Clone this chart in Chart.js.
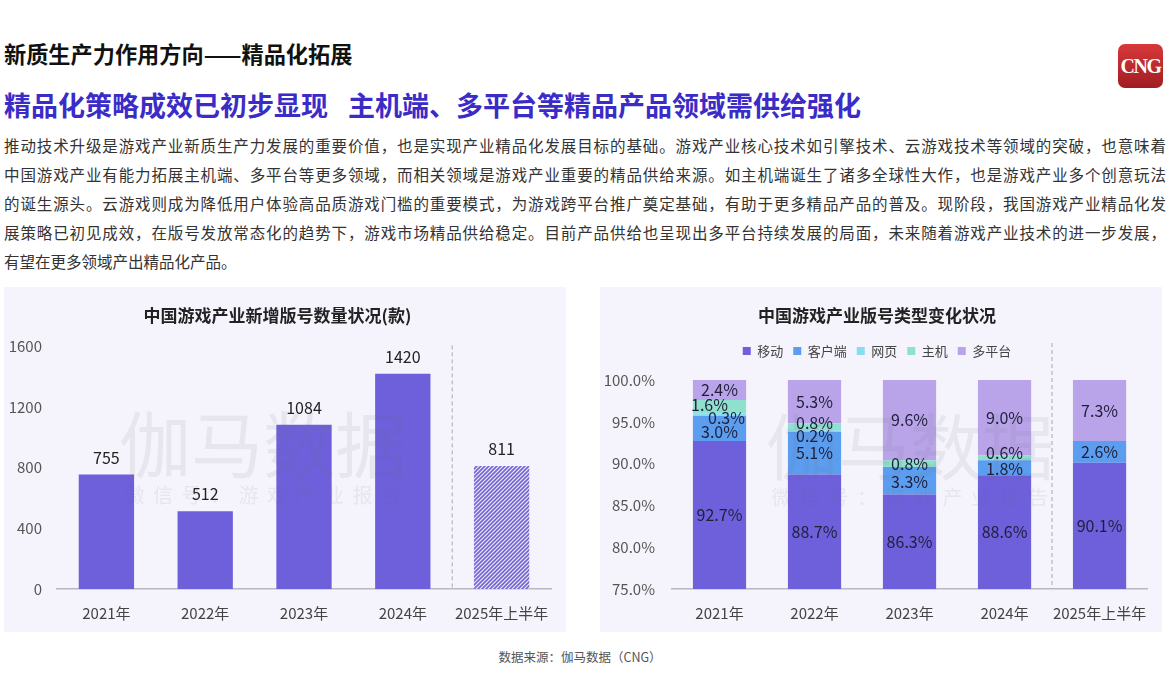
<!DOCTYPE html>
<html>
<head>
<meta charset="utf-8">
<script src="https://cdn.jsdelivr.net/npm/chart.js@4.4.1/dist/chart.umd.min.js"></script>
<style>
  body { margin: 0; background: #fff; font-family: "Noto Sans CJK SC", "Noto Sans", sans-serif; }
  #page { position: relative; width: 1170px; height: 698px; overflow: hidden; }
  .t1 { position: absolute; left: 4px; top: 42px; font-size: 22.2px; line-height: 22px; font-weight: bold; color: #111; }
  .t2 { position: absolute; left: 4px; top: 90.5px; font-size: 27px; line-height: 27px; font-weight: bold; color: #3b2cc8; white-space: nowrap; }
  .t2 span { margin-left: 20px; }
  .para { position: absolute; left: 4px; top: 130.5px; width: 1162px; font-size: 15.5px; line-height: 29px; color: #333; }
  .para div { text-align: justify; text-align-last: justify; white-space: nowrap; }
  .para div.last { text-align-last: left; }
  .logo { position: absolute; left: 1118px; top: 44px; width: 45px; height: 44px; border-radius: 7px;
    background: linear-gradient(#d8383a, #a01d22); color: #fff; font: bold 20px "Liberation Serif", serif;
    line-height: 44px; text-align: center; letter-spacing: -1.5px; }
  .panel { position: absolute; top: 287px; width: 562px; height: 345px; background: #f5f4fc; }
  .foot { position: absolute; left: 0; width: 1160px; top: 649px; text-align: center; font-size: 12.5px; line-height: 16px; color: #555; }
</style>
</head>
<body>
<div id="page">
  <div class="t1">新质生产力作用方向——精品化拓展</div>
  <div class="t2">精品化策略成效已初步显现<span>主机端、多平台等精品产品领域需供给强化</span></div>
  <div class="logo">CNG</div>
  <div class="para">
    <div>推动技术升级是游戏产业新质生产力发展的重要价值，也是实现产业精品化发展目标的基础。游戏产业核心技术如引擎技术、云游戏技术等领域的突破，也意味着</div>
    <div>中国游戏产业有能力拓展主机端、多平台等更多领域，而相关领域是游戏产业重要的精品供给来源。如主机端诞生了诸多全球性大作，也是游戏产业多个创意玩法</div>
    <div>的诞生源头。云游戏则成为降低用户体验高品质游戏门槛的重要模式，为游戏跨平台推广奠定基础，有助于更多精品产品的普及。现阶段，我国游戏产业精品化发</div>
    <div>展策略已初见成效，在版号发放常态化的趋势下，游戏市场精品供给稳定。目前产品供给也呈现出多平台持续发展的局面，未来随着游戏产业技术的进一步发展，</div>
    <div class="last">有望在更多领域产出精品化产品。</div>
  </div>
  <div class="panel" style="left:4px"><canvas id="left" width="562" height="345"></canvas></div>
  <div class="panel" style="left:600px"><canvas id="right" width="562" height="345"></canvas></div>
  <div class="foot">数据来源：伽马数据（CNG）</div>
</div>
<script>
// data
const years = ['2021年', '2022年', '2023年', '2024年', '2025年上半年'];
const newLicenses = [755, 512, 1084, 1420, 811];

const typeNames = ['移动', '客户端', '网页', '主机', '多平台'];
const mobile = [92.7, 88.7, 86.3, 88.6, 90.1];
const client = [3.0, 5.1, 3.3, 1.8, 2.6];
const web = [0.3, 0.2, 0, 0, 0];
const consoleShare = [1.6, 0.8, 0.8, 0.6, 0];
const multi = [2.4, 5.3, 9.6, 9.0, 7.3];

const leftTicks = [0, 400, 800, 1200, 1600];
const rightTicks = [75, 80, 85, 90, 95, 100];

Chart.defaults.font.family = '"Noto Sans CJK SC", "Noto Sans", sans-serif';
Chart.defaults.color = '#555';

const purple = '#6e5fdb';
const typeColors = [purple, '#5b9ef0', '#86dcf2', '#8fe0cc', '#b9a4e9'];

// little striped pattern for the half-year bar
function stripes(ctx) {
  const c = document.createElement('canvas');
  c.width = 4; c.height = 4;
  const g = c.getContext('2d');
  g.fillStyle = '#ebe8fb';
  g.fillRect(0, 0, 4, 4);
  g.strokeStyle = '#7364d8';
  g.lineWidth = 1.6;
  g.beginPath();
  g.moveTo(0, 4); g.lineTo(4, 0);
  g.moveTo(-1, 1); g.lineTo(1, -1);
  g.moveTo(3, 5); g.lineTo(5, 3);
  g.stroke();
  return ctx.createPattern(c, 'repeat');
}

const watermark = {
  id: 'watermark',
  afterDatasetsDraw(chart, args, o) {
    const ctx = chart.ctx;
    ctx.save();
    ctx.fillStyle = 'rgba(110,110,120,0.1)';
    ctx.textAlign = 'center';
    ctx.textBaseline = 'middle';
    ctx.font = '72px "Noto Sans CJK SC"';
    ctx.fillText('伽马数据', o.x, o.y);
    ctx.font = '20px "Noto Sans CJK SC"';
    ctx.letterSpacing = '8.5px';
    ctx.fillText('微信号：游戏产业报告', o.x + 4, o.y + 50);
    ctx.restore();
  }
};

const divider = {
  id: 'divider',
  afterDatasetsDraw(chart, args, o) {
    const x = chart.scales.x;
    const px = (x.getPixelForTick(3) + x.getPixelForTick(4)) / 2;
    const ctx = chart.ctx;
    ctx.save();
    ctx.strokeStyle = '#a9a9b3';
    ctx.lineWidth = 1;
    ctx.setLineDash([4, 3]);
    ctx.beginPath();
    ctx.moveTo(px, chart.chartArea.top - o.above);
    ctx.lineTo(px, chart.chartArea.bottom);
    ctx.stroke();
    ctx.restore();
  }
};

const topLabels = {
  id: 'topLabels',
  afterDatasetsDraw(chart) {
    const ctx = chart.ctx;
    const meta = chart.getDatasetMeta(0);
    ctx.save();
    ctx.fillStyle = '#222';
    ctx.font = '16px "Noto Sans CJK SC"';
    ctx.textAlign = 'center';
    ctx.textBaseline = 'middle';
    meta.data.forEach((bar, i) => {
      ctx.fillText(newLicenses[i], bar.x, bar.y - 17);
    });
    ctx.restore();
  }
};

// small label shifts where segments are too thin
const nudge = { '3-0': [-10, -2], '2-0': [7, 3], '1-0': [0, 3.5], '3-1': [0, -4], '2-1': [0, 5], '3-3': [0, -5], '1-3': [0, 1], '1-2': [0, 1] };

const stackLabels = {
  id: 'stackLabels',
  afterDatasetsDraw(chart) {
    const ctx = chart.ctx;
    const y = chart.scales.y;
    ctx.save();
    ctx.fillStyle = '#1f1f3a';
    ctx.font = '16px "Noto Sans CJK SC"';
    ctx.textAlign = 'center';
    ctx.textBaseline = 'middle';
    const sums = years.map(() => 0);
    chart.data.datasets.forEach((ds, di) => {
      const meta = chart.getDatasetMeta(di);
      ds.data.forEach((v, i) => {
        const start = sums[i];
        const end = start + v;
        sums[i] = end;
        if (!v) return;
        const mid = (Math.max(start, y.min) + Math.min(end, y.max)) / 2;
        const n = nudge[di + '-' + i] || [0, 0];
        ctx.fillText(v.toFixed(1) + '%', meta.data[i].x + n[0], y.getPixelForValue(mid) + n[1]);
      });
    });
    ctx.restore();
  }
};

const titleOpts = (text, bottom) => ({
  display: true,
  text: text,
  color: '#222',
  font: { size: 17, weight: 'bold' },
  padding: { top: 18, bottom: bottom }
});

const xAxis = {
  afterFit: s => { s.height = 33; },
  grid: { display: false, drawTicks: false },
  border: { display: true, color: '#b8b8c0', width: 1.5 },
  ticks: { padding: 15, color: '#444', font: { size: 15 }, maxRotation: 0, minRotation: 0, autoSkip: false }
};

// left chart
const lctx = document.getElementById('left').getContext('2d');
new Chart(lctx, {
  type: 'bar',
  data: {
    labels: years,
    datasets: [{
      data: newLicenses,
      backgroundColor: [purple, purple, purple, purple, stripes(lctx)],
      borderWidth: 0,
      categoryPercentage: 1,
      barPercentage: 0.56
    }]
  },
  options: {
    responsive: false,
    animation: false,
    layout: { padding: { left: 0, right: 15, bottom: 10 } },
    plugins: {
      legend: { display: false },
      tooltip: { enabled: false },
      title: titleOpts('中国游戏产业新增版号数量状况(款)', 21),
      watermark: { x: 259, y: 158 },
      divider: { above: 1 }
    },
    scales: {
      x: xAxis,
      y: {
        min: 0, max: 1600,
        afterBuildTicks: s => { s.ticks = leftTicks.map(v => ({ value: v })); },
        afterFit: s => { s.width = 53; },
        grid: { display: false, drawTicks: false },
        border: { display: false },
        ticks: { padding: 15, color: '#555', font: { size: 15 }, callback: v => String(v) }
      }
    }
  },
  plugins: [watermark, divider, topLabels]
});

// right chart
const typeSeries = [mobile, client, web, consoleShare, multi];
new Chart(document.getElementById('right'), {
  type: 'bar',
  data: {
    labels: years,
    datasets: typeSeries.map((d, i) => ({
      label: typeNames[i],
      data: d,
      backgroundColor: typeColors[i],
      borderWidth: 0,
      categoryPercentage: 1,
      barPercentage: 0.56
    }))
  },
  options: {
    responsive: false,
    animation: false,
    layout: { padding: { left: 0, right: 8, bottom: 10 } },
    plugins: {
      legend: {
        position: 'top',
        labels: { boxWidth: 8, boxHeight: 8, padding: 10, color: '#444', font: { size: 13 } }
      },
      // empty subtitle used as a spacer under the legend
      subtitle: { display: true, text: ' ', weight: 500, font: { size: 1 }, padding: { top: 11.4, bottom: 0 } },
      tooltip: { enabled: false },
      title: titleOpts('中国游戏产业版号类型变化状况', 9),
      watermark: { x: 310, y: 160 },
      divider: { above: 37 }
    },
    scales: {
      x: Object.assign({ stacked: true }, xAxis),
      y: {
        stacked: true,
        min: 75, max: 100,
        afterBuildTicks: s => { s.ticks = rightTicks.map(v => ({ value: v })); },
        afterFit: s => { s.width = 72; },
        grid: { display: false, drawTicks: false },
        border: { display: false },
        ticks: { padding: 17, color: '#555', font: { size: 15 }, callback: v => v.toFixed(1) + '%' }
      }
    }
  },
  plugins: [watermark, divider, stackLabels]
});
</script>
</body>
</html>
